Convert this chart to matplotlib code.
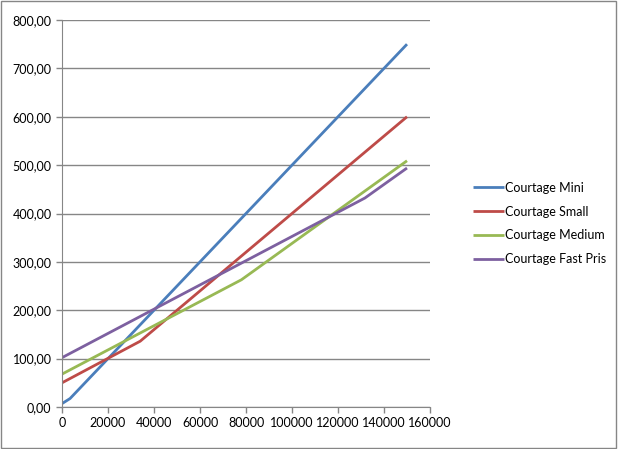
import matplotlib.pyplot as plt
from matplotlib.ticker import FuncFormatter
from matplotlib.patches import Rectangle

plt.rcParams['font.family'] = ['Lato', 'DejaVu Sans']

mini_x = [0, 3500, 150000]
mini_y = [7, 17.5, 750]
small_x = [0, 34000, 150000]
small_y = [50, 136, 600]
medium_x = [0, 78000, 150000]
medium_y = [68, 263, 509]
fast_x = [0, 131700, 150000]
fast_y = [102, 432, 494]

labels = ['Courtage Mini', 'Courtage Small', 'Courtage Medium', 'Courtage Fast Pris']
colors = ['#4A7EBB', '#BE4B48', '#98B954', '#7D60A0']

fig = plt.figure(figsize=(6.18, 4.49), dpi=100)
ax = fig.add_axes([62 / 618, 1 - 407 / 449, 368 / 618, 387 / 449])

series = [(mini_x, mini_y), (small_x, small_y), (medium_x, medium_y), (fast_x, fast_y)]
for (x, y), lab, c in zip(series, labels, colors):
    ax.plot(x, y, color=c, lw=2.0, label=lab, solid_capstyle='butt')

ax.set_xlim(0, 160000)
ax.set_ylim(0, 800)
ax.set_xticks(range(0, 160001, 20000))
ax.set_yticks(range(0, 801, 100))
ax.yaxis.set_major_formatter(FuncFormatter(lambda v, p: f'{v:.2f}'.replace('.', ',')))
ax.grid(axis='y', color='#868686', lw=1)
ax.set_axisbelow(True)
for s in ['top', 'right']:
    ax.spines[s].set_visible(False)
for s in ['left', 'bottom']:
    ax.spines[s].set_color('#868686')
ax.tick_params(colors='#868686', labelcolor='black', labelsize=9, length=4, width=1)

ax.legend(loc='center left', bbox_to_anchor=(1.085, 0.474), frameon=False, fontsize=9,
          handlelength=2.5, handletextpad=0.1, labelspacing=0.95)

fig.patches.append(Rectangle((0.002, 0.003), 0.995, 0.994, transform=fig.transFigure,
                             fill=False, edgecolor='#868686', lw=1))

fig.savefig('out.png', dpi=100)
